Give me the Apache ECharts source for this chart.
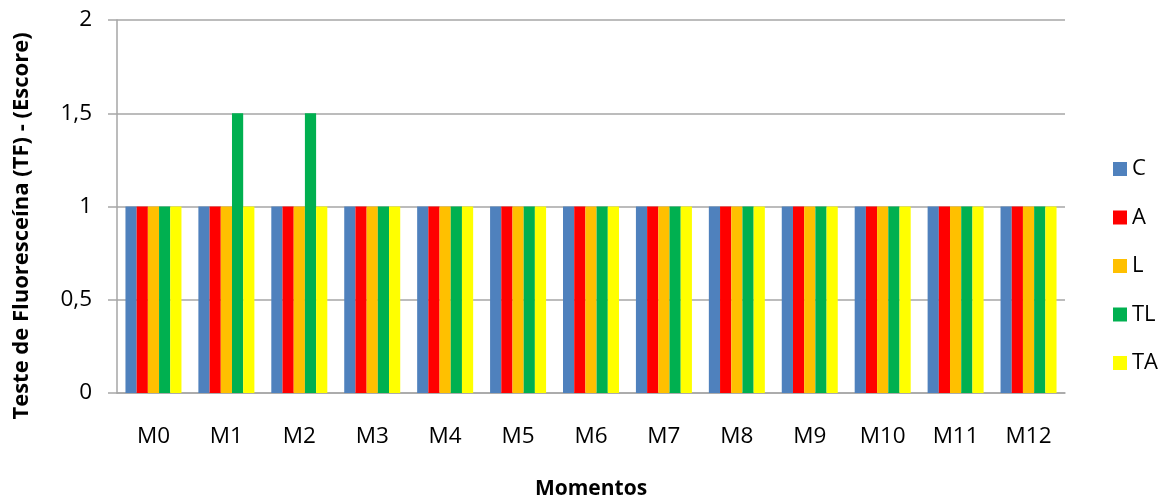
<!DOCTYPE html>
<html>
<head>
<meta charset="utf-8">
<script src="https://cdn.jsdelivr.net/npm/echarts@6/dist/echarts.min.js"></script>
<style>
  html, body { margin: 0; padding: 0; background: #ffffff; }
  #chart { width: 1167px; height: 501px; }
</style>
</head>
<body>
<div id="chart"></div>
<script>
// Fluorescein test scores per moment and group
const categories = ['M0', 'M1', 'M2', 'M3', 'M4', 'M5', 'M6', 'M7', 'M8', 'M9', 'M10', 'M11', 'M12'];
const seriesNames = ['C', 'A', 'L', 'TL', 'TA'];
const valuesC  = [1, 1, 1, 1, 1, 1, 1, 1, 1, 1, 1, 1, 1];
const valuesA  = [1, 1, 1, 1, 1, 1, 1, 1, 1, 1, 1, 1, 1];
const valuesL  = [1, 1, 1, 1, 1, 1, 1, 1, 1, 1, 1, 1, 1];
const valuesTL = [1, 1.5, 1.5, 1, 1, 1, 1, 1, 1, 1, 1, 1, 1];
const valuesTA = [1, 1, 1, 1, 1, 1, 1, 1, 1, 1, 1, 1, 1];
const colors = ['#4F81BD', '#FF0000', '#FFC000', '#00B050', '#FFFF00'];
const yTitle = 'Teste de Fluoresceína (TF) - (Escore)';
const xTitle = 'Momentos';

const allValues = [valuesC, valuesA, valuesL, valuesTL, valuesTA];
const fontFamily = '"Open Sans", sans-serif';
const gridColor = '#A6A6A6';

const chart = echarts.init(document.getElementById('chart'), null, { renderer: 'canvas' });

chart.setOption({
  animation: false,
  color: colors,
  grid: {
    left: 117, right: 102, top: 20, bottom: 108,
    containLabel: false,
    outerBoundsMode: 'none'
  },
  // vertical axis title, set slightly below the plot's middle
  graphic: [{
    type: 'text',
    x: 22,
    y: 226,
    rotation: Math.PI / 2,
    style: {
      text: yTitle,
      fontFamily, fontSize: 22, fontWeight: 'bold', fill: '#000',
      align: 'center', verticalAlign: 'middle'
    }
  }],
  legend: {
    orient: 'vertical',
    left: 1108,
    top: 153,
    itemWidth: 14,
    itemHeight: 14,
    itemGap: 26.5,
    icon: 'rect',
    data: seriesNames,
    textStyle: { fontFamily, fontSize: 22, color: '#000', lineHeight: 22 }
  },
  xAxis: {
    type: 'category',
    data: categories,
    name: xTitle,
    nameLocation: 'middle',
    nameGap: 86,
    nameTextStyle: { fontFamily, fontSize: 21, fontWeight: 'bold', color: '#000' },
    axisLine: { show: true, lineStyle: { color: gridColor, width: 1.5 } },
    axisTick: { show: false },
    axisLabel: { fontFamily, fontSize: 22.5, color: '#000', margin: 32 }
  },
  yAxis: {
    type: 'value',
    min: 0,
    max: 2,
    interval: 0.5,
    axisLine: { show: true, lineStyle: { color: gridColor, width: 1.5 } },
    axisTick: { show: true, inside: false, length: 9, lineStyle: { color: gridColor, width: 1.5 } },
    splitLine: { show: true, lineStyle: { color: gridColor, width: 1.5 } },
    axisLabel: {
      fontFamily, fontSize: 22.5, color: '#000', margin: 25,
      formatter: v => String(v).replace('.', ',')
    }
  },
  series: seriesNames.map((name, i) => ({
    name,
    type: 'bar',
    data: allValues[i],
    barWidth: 11.2,
    barGap: '0%',
    barCategoryGap: '23%',
    itemStyle: { color: colors[i] }
  }))
});
</script>
</body>
</html>
